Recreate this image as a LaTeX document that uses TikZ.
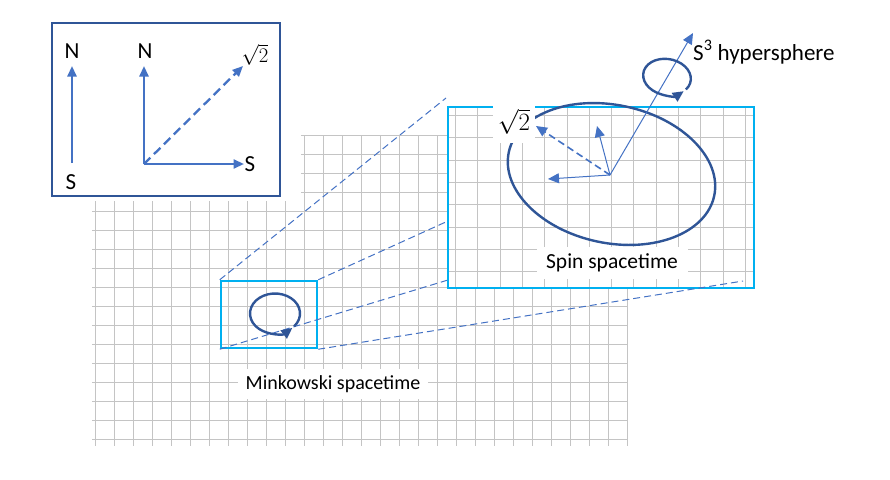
\documentclass[tikz,border=0pt]{standalone}
\usepackage[no-math]{fontspec}
\setmainfont{Carlito}
\usetikzlibrary{arrows.meta}
\definecolor{ablue}{HTML}{4472C4}
\definecolor{dblue}{HTML}{2F5597}
\definecolor{cyanb}{HTML}{00B0F0}
\definecolor{gridg}{HTML}{C4C4C4}
\begin{document}
\begin{tikzpicture}[x=1pt,y=1pt,
  gridline/.style={gridg, line width=1.3pt},
  proj/.style={ablue, line width=1pt, dash pattern=on 7pt off 4pt},
  vecthick/.style={ablue, line width=2.3pt, -{Triangle[length=10.5pt,width=9pt]}},
  vecthin/.style={ablue, line width=1pt, -{Triangle[length=11pt,width=10pt]}},
  loopline/.style={dblue, line width=2.4pt},
  looparrow/.style={dblue, line width=2.4pt, -{Triangle[length=11pt,width=10pt]}},
  lbl/.style={inner sep=0pt, font=\fontsize{23}{27}\selectfont},
  tag/.style={fill=white, inner sep=0pt},
]
\useasboundingbox (0,0) rectangle (890,-479);
% Minkowski grid
\foreach \k in {0,...,16} \draw[gridline] (92,{-135.5-19*\k}) -- (628,{-135.5-19*\k});
\foreach \k in {0,...,28} \draw[gridline] ({95.5+19*\k},-135.5) -- ({95.5+19*\k},-446);
\fill[white] (80,-120) rectangle (301,-201);
% inset box
\node[draw=dblue, line width=2.5pt, fill=white, minimum width=228pt, minimum height=173pt, inner sep=0pt] (inset) at (166,-109.5) {};
\coordinate (a1s) at (72,-163);
\coordinate (a1n) at (72,-66);
\coordinate (o2) at (144,-164);
\coordinate (n2) at (144,-66);
\coordinate (e2) at (244,-164);
\coordinate (d2) at (243,-66);
\draw[vecthick] (a1s) -- (a1n);
\draw[vecthick] (o2) -- (n2);
\draw[vecthick] (o2) -- (e2);
\draw[vecthick, dash pattern=on 9pt off 5pt] (o2) -- (d2);
\node[lbl] (N1) at (72,-51) {N};
\node[lbl] (S1) at (71,-182.5) {S};
\node[lbl] (N2) at (145,-51) {N};
\node[lbl] (S2) at (250,-164) {S};
\node[inner sep=0pt, font=\fontsize{20}{24}\selectfont] (r2a) at (255,-55) {$\sqrt{2}$};
% small cyan box
\node[draw=cyanb, line width=2.5pt, minimum width=96pt, minimum height=67pt, inner sep=0pt] (sbox) at (269,-314.5) {};
\coordinate (pA) at (448,-221);
\coordinate (pB) at (448,-280);
\coordinate (pC) at (446,-98);
\coordinate (pD) at (743,-281);
\draw[proj] (sbox.north east) -- (pA);
\draw[proj] (sbox.south west) -- (pB);
\draw[proj] (sbox.north west) -- (pC);
\draw[looparrow] (275,-313.5) ++(-40:25 and 20) arc[start angle=-40, end angle=314, x radius=25, y radius=20];
% big cyan box
\node[fill=white, minimum width=306pt, minimum height=181pt, inner sep=0pt] (bbox) at (601,-197.5) {};
\foreach \k in {0,...,13} \draw[gridline] ({round(455+22.3*\k)+0.5},-107) -- ({round(455+22.3*\k)+0.5},-288);
\foreach \k in {0,...,7} \draw[gridline] (448,{-round(115+22.3*\k)-0.5}) -- (754,{-round(115+22.3*\k)-0.5});
\draw[cyanb, line width=2.5pt] (bbox.north west) rectangle (bbox.south east);
\draw[proj] (sbox.south east) -- (pD);
% spin picture
\draw[loopline, rotate around={-12:(611.5,-174)}] (611.5,-174) ellipse [x radius=105, y radius=69];
\coordinate (sc) at (610,-175);
\coordinate (s3tip) at (693,-33);
\coordinate (vup) at (597,-126);
\coordinate (vleft) at (548,-179);
\coordinate (vdash) at (536,-126);
\draw[vecthin] (sc) -- (s3tip);
\draw[vecthin] (sc) -- (vup);
\draw[vecthin] (sc) -- (vleft);
\draw[vecthin, line width=1.6pt, dash pattern=on 7pt off 4pt] (sc) -- (vdash);
\draw[looparrow, rotate around={-10:(667,-77)}] (667,-77) ++(-30:24 and 18) arc[start angle=-30, end angle=322, x radius=24, y radius=18];
% labels
\node[fill=white, inner sep=0pt, minimum width=42pt, minimum height=42pt, font=\fontsize{25}{30}\selectfont] (r2b) at (514,-121.5) {$\sqrt{2}$};
\node[tag, minimum width=151pt, minimum height=32pt, font=\fontsize{21.5}{26}\selectfont] (spin) at (612,-262.5) {Spin spacetime};
\node[tag, minimum width=190pt, minimum height=30pt, font=\fontsize{20}{24}\selectfont] (mink) at (333,-384) {Minkowski spacetime};
\node[anchor=base west, inner sep=0pt, font=\fontsize{23}{27}\selectfont] (s3) at (693,-60) {S\textsuperscript{3} hypersphere};
\end{tikzpicture}
\end{document}
